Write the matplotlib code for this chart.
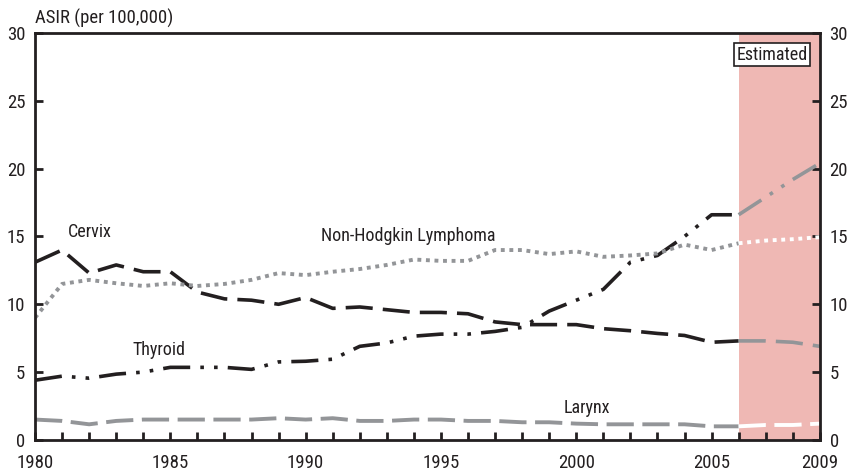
import matplotlib.pyplot as plt

plt.rcParams['font.family'] = ['Roboto Condensed', 'DejaVu Sans']

years = list(range(1980, 2010))
est_start = 2006

cervix = [13.1, 14.0, 12.3, 12.9, 12.4, 12.4, 10.9, 10.4, 10.3, 10.0,
          10.5, 9.7, 9.8, 9.6, 9.4, 9.4, 9.3, 8.7, 8.5, 8.5,
          8.5, 8.2, 8.05, 7.85, 7.7, 7.2, 7.3, 7.3, 7.2, 6.9]
nhl = [9.0, 11.5, 11.8, 11.55, 11.35, 11.55, 11.35, 11.5, 11.8, 12.3,
       12.15, 12.4, 12.6, 12.9, 13.3, 13.2, 13.2, 14.0, 14.0, 13.7,
       13.9, 13.5, 13.6, 13.75, 14.4, 14.0, 14.5, 14.7, 14.8, 14.95]
thyroid = [4.4, 4.7, 4.55, 4.85, 5.0, 5.35, 5.35, 5.35, 5.2, 5.75,
           5.8, 5.95, 6.9, 7.15, 7.65, 7.8, 7.8, 8.0, 8.3, 9.5,
           10.3, 11.1, 13.1, 13.6, 15.0, 16.6, 16.6, 17.9, 19.2, 20.4]
larynx = [1.5, 1.4, 1.15, 1.4, 1.5, 1.5, 1.5, 1.5, 1.5, 1.6,
          1.5, 1.6, 1.4, 1.4, 1.5, 1.5, 1.4, 1.4, 1.3, 1.3,
          1.2, 1.15, 1.15, 1.15, 1.15, 1.0, 1.0, 1.1, 1.1, 1.2]

xtick_labels = [1980, 1985, 1990, 1995, 2000, 2005, 2009]

fig = plt.figure(figsize=(8.54, 4.72), dpi=100)
ax = fig.add_axes([0.041, 0.068, 0.919, 0.862])

ax.axvspan(est_start, 2009, color='#efb8b4', lw=0, zorder=0)

k = years.index(est_start)
obs = slice(0, k + 1)
est = slice(k, None)

dash = (0, (7.5, 2.8))
gdash = (0, (7, 2.2))
dashdot2 = (0, (7.5, 2.8, 1, 2.8, 1, 2.8))
dot = (0, (1, 1.2))

ink = '#231f20'
grey = '#939598'

# observed
ax.plot(years[obs], cervix[obs], color=ink, lw=2.6, ls=dash)
ax.plot(years[obs], thyroid[obs], color=ink, lw=2.6, ls=dashdot2)
ax.plot(years[obs], nhl[obs], color=grey, lw=2.8, ls=dot)
ax.plot(years[obs], larynx[obs], color=grey, lw=2.8, ls=gdash)
# estimated
ax.plot(years[est], cervix[est], color=grey, lw=2.6, ls=dash)
ax.plot(years[est], thyroid[est], color=grey, lw=2.6, ls=dashdot2)
ax.plot(years[est], nhl[est], color='white', lw=2.8, ls=dot)
ax.plot(years[est], larynx[est], color='white', lw=2.8, ls=gdash)

ax.set_xlim(1980, 2009)
ax.set_ylim(0, 30)
ax.set_xticks(years)
ax.set_xticklabels([str(y) if y in xtick_labels else '' for y in years])
ax.set_yticks(range(0, 31, 5))

for s in ax.spines.values():
    s.set_linewidth(2)
    s.set_color(ink)
ax.tick_params(axis='both', direction='in', length=6, width=2, color=ink,
               labelsize=13.5, labelcolor=ink)
ax.tick_params(axis='y', right=True, labelright=True, pad=7)
ax.tick_params(axis='x', pad=10)

ax.text(1981.2, 15.3, 'Cervix', fontsize=13, color=ink, ha='left', va='center')
ax.text(1993.8, 15.0, 'Non-Hodgkin Lymphoma', fontsize=13, color=ink, ha='center', va='center')
ax.text(1983.6, 6.6, 'Thyroid', fontsize=13, color=ink, ha='left', va='center')
ax.text(2000.4, 2.35, 'Larynx', fontsize=13, color=ink, ha='center', va='center')
ax.text(2008.55, 28.4, 'Estimated', fontsize=13, color=ink, ha='right', va='center',
        bbox=dict(boxstyle='square,pad=0.15', fc='white', ec=ink, lw=1.2))
fig.text(0.041, 0.962, 'ASIR (per 100,000)', fontsize=13.5, color=ink, ha='left', va='center')

fig.savefig('out.png', dpi=100)
